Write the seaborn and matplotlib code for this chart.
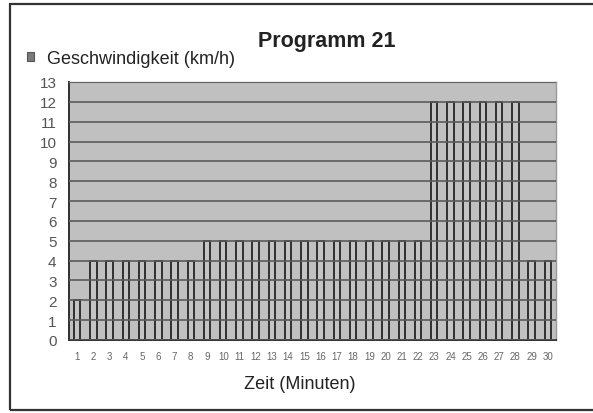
import matplotlib
matplotlib.use("Agg")
import matplotlib.pyplot as plt
import seaborn as sns
import pandas as pd
from matplotlib.patches import Rectangle

# Data
minutes = list(range(1, 31))
speed = [2, 4, 4, 4, 4, 4, 4, 4,
         5, 5, 5, 5, 5, 5, 5, 5, 5, 5, 5, 5, 5, 5,
         12, 12, 12, 12, 12, 12,
         4, 4]
series_name = "Geschwindigkeit (km/h)"

df = pd.DataFrame({"Minute": [str(m) for m in minutes], "Speed": speed})

sns.set_style("white")
plt.rcParams['font.family'] = ['Liberation Sans', 'DejaVu Sans']

fig = plt.figure(figsize=(5.93, 4.14), dpi=100)
ax = fig.add_axes([69 / 593, 1 - 341 / 414, (556 - 69) / 593, (341 - 83) / 414])

# outer frame like the scanned chart border
fig.patches.append(Rectangle((10 / 593, 1 - 411 / 414), 1.0, (411 - 5) / 414,
                             transform=fig.transFigure, fill=False,
                             edgecolor="#333333", linewidth=1.6))

ax.set_facecolor("#c0c0c0")
sns.barplot(data=df, x="Minute", y="Speed", ax=ax, color="#c4c4c4",
            saturation=1, width=0.4, edgecolor="#303030", linewidth=1.4,
            label=series_name)

ax.set_ylim(0, 13)
ax.set_yticks(range(0, 14))
ax.set_axisbelow(False)
ax.yaxis.grid(True, color="#5a5a5a", linewidth=1.2)
ax.xaxis.grid(False)

ax.tick_params(axis="y", labelsize=11, labelcolor="#555555", length=0, pad=9)
ax.tick_params(axis="x", labelsize=7, labelcolor="#666666", length=0, pad=8)

for side in ["left", "bottom"]:
    ax.spines[side].set_color("#303030")
    ax.spines[side].set_linewidth(1.4)
for side in ["top", "right"]:
    ax.spines[side].set_visible(True)
    ax.spines[side].set_color("#999999")
    ax.spines[side].set_linewidth(1.0)

ax.set_ylabel("")
ax.set_xlabel("")
fig.text(300 / 593, 1 - 385 / 414, "Zeit (Minuten)", ha="center", va="center",
         fontsize=13, color="#222222")

leg = ax.legend(loc="upper left", bbox_to_anchor=(20 / 593, 1 - 44 / 414),
                bbox_transform=fig.transFigure, frameon=False, fontsize=13,
                handlelength=0.38, handleheight=0.38, handletextpad=0.7,
                borderaxespad=0, labelcolor="#222222")
for h in leg.legend_handles:
    h.set_facecolor("#7a7a7a")
    h.set_edgecolor("#555555")
    h.set_linewidth(0.8)

fig.text(327 / 593, 1 - 41 / 414, "Programm 21", ha="center", va="center",
         fontsize=15.5, fontweight="bold", color="#222222")

fig.savefig("out.png", dpi=100)
